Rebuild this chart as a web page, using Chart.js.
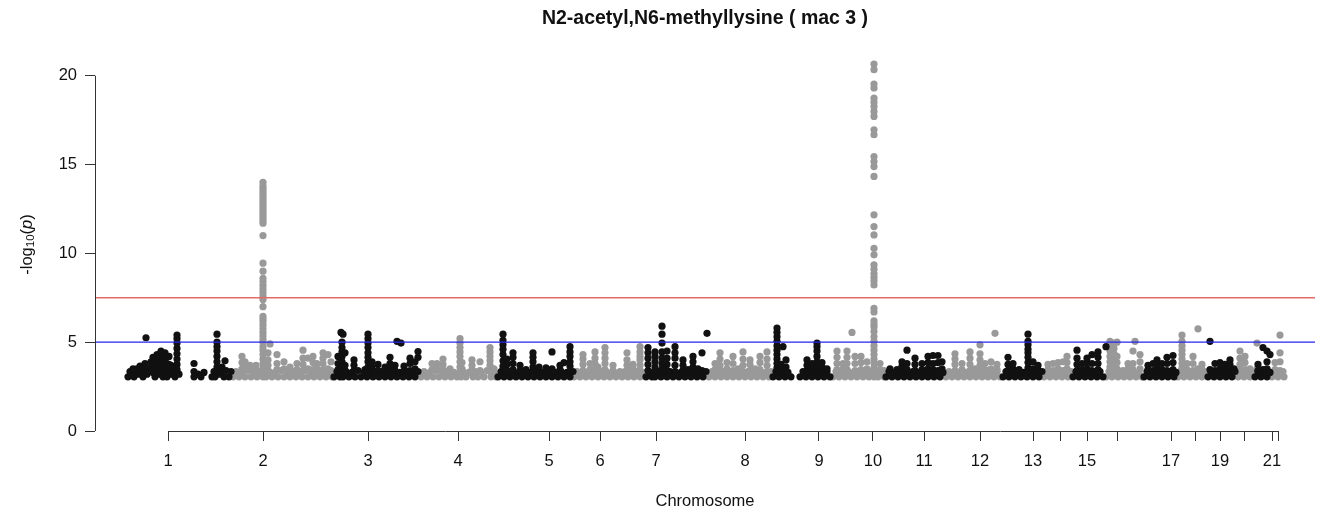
<!DOCTYPE html>
<html>
<head>
<meta charset="utf-8">
<title>N2-acetyl,N6-methyllysine ( mac 3 )</title>
<script src="https://cdn.jsdelivr.net/npm/chart.js@4.4.1/dist/chart.umd.min.js"></script>
<style>
  html, body { margin: 0; padding: 0; background: #fff; }
  #manhattan { display: block; }
</style>
</head>
<body>
<canvas id="manhattan" width="1321" height="510"></canvas>
<script>
// positions are cumulative genome positions (arbitrary units), values are -log10(p)
const chr1 = [[33,3.05],[35,3.35],[36,3.2],[38,3.5],[39,3.05],[41,3.3],[42,3.5],[44,3.2],[45,3.65],[47,3.3],[48,3.05],[50,3.5],[50,3.8],[51,5.25],[52,3.2],[53,3.45],[55,3.35],[56,3.6],[56,3.9],[58,3.3],[58,3.75],[58,4.15],[60,3.05],[60,3.5],[60,3.85],[62,3.3],[62,3.7],[62,4.0],[62,4.3],[64,3.2],[64,3.6],[64,4.0],[66,3.3],[66,3.75],[66,4.1],[66,4.5],[68,3.05],[68,3.5],[68,3.9],[68,4.2],[70,3.4],[70,3.7],[70,4.05],[70,4.4],[72,3.05],[72,3.45],[72,3.8],[74,3.3],[74,3.75],[74,4.2],[76,3.2],[76,3.45],[76,3.7],[78,3.4],[78,3.5],[80,3.05],[82,3.3],[82,3.45],[82,3.75],[82,4.05],[82,4.35],[82,4.65],[82,4.95],[82,5.2],[82,5.4],[84,3.2],
  [99,3.05],[99,3.35],[99,3.8],[103,3.2],[106,3.05],[109,3.3],
  [117,3.05],[119,3.35],[120,3.05],[122,3.3],[122,3.6],[122,3.9],[122,4.2],[122,4.5],[122,4.75],[122,5.0],[122,5.45],[124,3.2],[126,3.3],[127,3.6],[129,3.05],[130,3.95],[131,3.4],[134,3.05],[136,3.35]];
const chr2 = [[138,3.05],[141,3.35],[144,3.05],[147,3.3],[147,3.5],[147,3.85],[147,4.2],[150,3.05],[150,3.6],[150,3.9],[153,3.4],[155,3.45],[155,3.7],[156,3.05],[159,3.3],[161,3.4],[161,3.7],[162,3.05],[165,3.35],
  [168,3.05],[168,3.3],[168,3.55],[168,3.8],[168,4.05],[168,4.3],[168,4.55],[168,4.75],[168,5.0],[168,5.15],[168,5.35],[168,5.55],[168,5.75],[168,5.95],[168,6.15],[168,6.3],[168,6.45],[168,7.0],[168,7.4],[168,7.6],[168,7.8],[168,8.0],[168,8.2],[168,8.4],[168,8.6],[168,9.0],[168,9.45],[168,11.0],[168,11.7],[168,11.85],[168,12.0],[168,12.15],[168,12.3],[168,12.45],[168,12.6],[168,12.75],[168,12.9],[168,13.05],[168,13.2],[168,13.35],[168,13.5],[168,13.65],[168,13.8],[168,14.0],
  [171,3.05],[173,3.4],[173,3.7],[173,4.0],[173,4.4],[174,3.35],[175,4.9],[177,3.05],[180,3.3],[182,3.45],[182,3.8],[182,4.3],[183,3.05],[186,3.4],[189,3.05],[189,3.5],[189,3.9],[192,3.3],[195,3.05],[195,3.35],[195,3.6],[198,3.35],[201,3.05],[202,3.45],[202,3.8],[204,3.3],[207,3.05],[208,3.4],[208,3.75],[208,4.1],[208,4.55],[210,3.4],[213,3.05],[213,3.5],[213,4.1],[216,3.3],[218,3.45],[218,3.85],[218,4.2],[219,3.05],[222,3.35],[222,3.5],[222,3.8],[225,3.05],[228,3.3],[228,3.45],[228,3.8],[228,4.1],[228,4.4],[231,3.05],[233,3.5],[233,4.3],[234,3.35],[236,3.4],[236,3.9],[237,3.05]];
const chr3 = [[239,3.05],[242,3.35],[243,3.45],[243,3.8],[243,4.2],[245,3.05],[247,3.3],[247,3.6],[247,3.9],[247,4.2],[247,4.45],[247,4.7],[247,5.0],[246,5.55],[248,5.45],[248,3.05],[250,3.4],[250,3.7],[250,4.4],[251,3.35],[254,3.05],[257,3.3],[259,3.4],[259,3.7],[259,4.0],[260,3.05],[263,3.4],[266,3.05],[269,3.3],[270,3.45],[272,3.05],
  [273,3.3],[273,3.6],[273,3.9],[273,4.15],[273,4.4],[273,4.7],[273,4.95],[273,5.2],[273,5.45],[275,3.35],[277,3.35],[277,3.6],[277,3.9],[278,3.05],[281,3.3],[283,3.4],[283,3.75],[284,3.05],[287,3.35],[290,3.05],[290,3.35],[290,3.6],[293,3.3],[295,3.5],[295,3.8],[295,4.15],[296,3.05],[299,3.35],[300,3.4],[300,3.7],[302,5.05],[302,3.05],[305,3.3],[306,4.95],[308,3.05],[309,3.35],[309,3.65],[311,3.35],[314,3.05],[315,3.4],[315,3.8],[315,4.1],[317,3.3],[320,3.05],[320,3.5],[320,3.9],[323,3.35],[323,4.15],[323,4.47]];
const chr4 = [[326,3.05],[329,3.35],[332,3.05],[335,3.3],[337,3.45],[337,3.8],[338,3.05],[341,3.4],[342,3.5],[342,3.8],[344,3.05],[347,3.3],[348,3.45],[348,3.75],[348,4.05],[350,3.05],[353,3.35],[355,3.5],[356,3.05],[359,3.3],[362,3.05],
  [365,3.35],[365,3.6],[365,3.9],[365,4.2],[365,4.45],[365,4.7],[365,4.95],[365,5.2],[366,3.05],[367,3.5],[367,3.85],[368,3.35],[371,3.05],[374,3.3],[377,3.45],[377,3.7],[377,4.0],[378,3.05],[380,3.35],[383,3.05],[385,3.4],[385,3.9],[386,3.3],[389,3.05],[392,3.4],[395,3.35],[395,3.7],[395,3.95],[395,4.2],[395,4.45],[395,4.7],[396,3.05],[399,3.5],[399,3.3],[401,3.05]];
const chr5 = [[403,3.05],[406,3.35],[408,3.35],[408,3.65],[408,3.95],[408,4.3],[408,4.6],[408,4.85],[408,5.1],[408,5.45],[409,3.05],[412,3.3],[412,3.4],[412,3.75],[412,4.05],[415,3.05],[418,3.35],[418,3.45],[418,3.8],[418,4.15],[418,4.4],[421,3.05],[424,3.3],[425,3.4],[425,3.7],[427,3.05],[430,3.35],[431,3.45],[433,3.05],[436,3.3],[438,3.35],[438,3.6],[438,3.9],[438,4.15],[438,4.4],[439,3.05],[442,3.35],[444,3.4],[444,3.6],[445,3.05],[448,3.3],[451,3.05],[451,3.4],[451,3.55],[454,3.35],[457,3.05],[457,3.5],[457,4.45],[460,3.3],[463,3.05],[465,3.45],[465,3.7],[466,3.35],[469,3.05],[469,3.85],[472,3.3],[475,3.05],[475,3.35],[475,3.65],[475,3.9],[475,4.2],[475,4.45],[475,4.75],[478,3.35]];
const chr6 = [[479,3.05],[482,3.35],[485,3.05],[488,3.3],[488,3.4],[488,3.75],[488,4.05],[488,4.3],[491,3.05],[494,3.35],[495,3.45],[495,3.8],[497,3.05],[500,3.3],[500,3.5],[500,3.8],[500,4.1],[500,4.45],[503,3.05],[503,3.6],[506,3.35],[509,3.05],[510,3.45],[510,3.8],[510,4.1],[510,4.4],[510,4.7],[512,3.3],[515,3.05],[518,3.35],[518,3.4],[518,3.7],[521,3.05],[524,3.3],[525,3.35],[527,3.05],[530,3.35],[532,3.4],[532,3.7],[532,4.0],[532,4.4],[533,3.05],[536,3.3],[538,3.5],[538,3.75],[539,3.05],[542,3.35],[545,3.05],[545,3.4],[545,3.7],[545,4.0],[545,4.2],[545,4.45],[545,4.75],[548,3.3]];
const chr7 = [[551,3.05],[553,3.4],[553,3.75],[553,4.1],[553,4.4],[553,4.7],[554,3.35],[557,3.05],[560,3.35],[560,3.6],[560,3.9],[560,4.2],[560,4.45],[560,3.05],[563,3.35],[566,3.05],[567,3.5],[567,3.8],[567,4.1],[567,4.45],[567,4.95],[567,5.45],[567,5.9],[569,3.3],[572,3.4],[572,3.75],[572,4.1],[572,4.5],[572,3.05],[575,3.35],[578,3.05],[580,3.35],[580,3.7],[580,4.1],[580,4.4],[580,4.75],[581,3.3],[584,3.05],[587,3.35],[588,3.4],[588,3.7],[588,4.0],[590,3.05],[593,3.45],[593,3.3],[596,3.05],[598,3.35],[598,3.6],[598,3.9],[598,4.2],[599,3.35],[602,3.05],[603,3.5],[605,3.3],[607,3.4],[607,4.4],[608,3.05],[611,3.35],[612,5.5]];
const chr8 = [[614,3.05],[617,3.35],[620,3.05],[620,3.45],[620,3.8],[623,3.3],[625,3.4],[625,3.7],[625,4.05],[625,4.4],[626,3.05],[629,3.35],[632,3.05],[632,3.5],[632,3.85],[635,3.3],[638,3.05],[638,3.4],[638,3.8],[638,4.2],[641,3.35],[643,3.5],[644,3.05],[647,3.3],[648,3.35],[648,3.7],[648,4.05],[648,4.45],[650,3.05],[653,3.35],[655,3.4],[655,3.75],[655,4.0],[656,3.05],[659,3.3],[660,3.5],[662,3.05],[665,3.35],[665,3.45],[665,3.85],[665,4.2],[668,3.05],[671,3.3],[672,3.35],[672,3.7],[672,4.05],[672,4.45],[674,3.05],[676,3.35]];
const chr9 = [[678,3.05],[681,3.35],[682,3.3],[682,3.55],[682,3.8],[682,4.05],[682,4.3],[682,4.55],[682,4.8],[682,5.05],[682,5.3],[682,5.55],[682,5.8],[684,3.05],[686,3.5],[686,3.75],[687,3.35],[688,4.75],[690,3.05],[691,3.6],[691,4.0],[693,3.3],[696,3.05],
  [705,3.05],[708,3.35],[711,3.05],[712,3.4],[712,3.7],[712,4.0],[714,3.3],[717,3.05],[717,3.5],[717,3.8],[720,3.35],[722,3.3],[722,3.6],[722,3.9],[722,4.2],[722,4.5],[722,4.75],[722,4.95],[723,3.05],[726,3.3],[727,3.6],[727,3.85],[729,3.05],[732,3.35],[732,3.5],[735,3.05]];
const chr10 = [[738,3.05],[741,3.35],[742,3.45],[742,3.8],[742,4.15],[742,4.5],[744,3.05],[747,3.3],[748,3.5],[748,3.8],[750,3.05],[752,3.45],[752,3.8],[752,4.15],[752,4.5],[753,3.35],[756,3.05],[757,5.55],[759,3.3],[760,3.4],[760,3.8],[760,4.2],[762,3.05],[765,3.35],[766,3.45],[766,3.85],[766,4.2],[768,3.05],[771,3.3],[772,3.5],[772,3.9],[774,3.05],[777,3.35],
  [779,3.05],[779,3.3],[779,3.55],[779,3.8],[779,4.05],[779,4.3],[779,4.55],[779,4.8],[779,5.05],[779,5.3],[779,5.6],[779,5.85],[779,6.0],[779,6.2],[779,6.7],[779,6.9],[779,8.22],[779,8.45],[779,8.65],[779,8.85],[779,9.1],[779,9.35],[779,9.92],[779,10.29],[779,11.04],[779,11.51],[779,12.17],[779,14.33],[779,14.89],[779,15.17],[779,15.45],[779,16.68],[779,16.96],[779,17.71],[779,17.99],[779,18.27],[779,18.5],[779,18.74],[779,19.31],[779,19.53],[779,20.34],[779,20.66],
  [780,3.3],[783,3.05],[785,3.45],[785,3.8],[786,3.35],[789,3.4],[789,3.05]];
const chr11 = [[791,3.05],[794,3.35],[795,3.5],[797,3.05],[800,3.3],[802,3.45],[803,3.05],[806,3.35],[807,3.4],[807,3.65],[807,3.9],[809,3.05],[812,3.3],[812,3.45],[812,3.8],[812,4.55],[815,3.05],[818,3.35],[820,3.4],[820,3.75],[820,4.1],[821,3.05],[824,3.3],[827,3.05],[827,3.45],[827,3.8],[830,3.35],[833,3.05],[833,3.5],[833,3.85],[833,4.2],[836,3.3],[838,3.45],[838,3.8],[838,4.25],[839,3.05],[842,3.35],[843,3.4],[843,3.85],[843,4.25],[845,3.05],[847,3.5],[847,3.9],[848,3.3]];
const chr12 = [[851,3.05],[854,3.35],[857,3.05],[860,3.3],[860,3.4],[860,3.75],[860,4.05],[860,4.35],[863,3.05],[866,3.35],[867,3.45],[867,3.8],[869,3.05],[872,3.3],[875,3.05],[875,3.4],[875,3.75],[875,4.1],[875,4.45],[878,3.35],[880,3.5],[881,3.05],[884,3.3],[885,3.35],[885,3.7],[885,4.0],[885,4.35],[885,4.85],[887,3.05],[890,3.35],[890,3.45],[890,3.8],[893,3.05],[896,3.3],[896,3.5],[896,3.9],[899,3.05],[900,5.5],[902,3.35],[902,3.45],[902,3.75],[905,3.05]];
const chr13 = [[908,3.05],[911,3.35],[913,3.4],[913,3.75],[913,4.15],[914,3.05],[917,3.3],[918,3.5],[918,3.8],[920,3.05],[923,3.35],[924,3.45],[926,3.05],[929,3.3],[932,3.05],[933,3.3],[933,3.55],[933,3.85],[933,4.15],[933,4.4],[933,4.6],[933,4.85],[933,5.05],[933,5.45],[935,3.35],[938,3.05],[938,3.5],[938,3.9],[941,3.3],[943,3.45],[943,3.7],[944,3.05],[947,3.35]];
const chr14 = [[949,3.05],[952,3.35],[953,3.45],[953,3.75],[955,3.05],[958,3.3],[958,3.4],[958,3.8],[961,3.05],[963,3.5],[963,3.85],[964,3.35],[967,3.05],[968,3.4],[968,3.9],[970,3.3],[972,3.5],[972,3.85],[972,4.2],[973,3.05],[976,3.35]];
const chr15 = [[978,3.05],[981,3.35],[982,3.4],[982,3.75],[982,4.1],[982,4.55],[984,3.05],[987,3.3],[987,3.45],[987,3.8],[990,3.05],[992,3.5],[992,3.85],[992,4.1],[993,3.35],[996,3.05],[997,3.4],[997,3.8],[997,4.3],[999,3.3],[1002,3.05],[1003,3.45],[1003,3.8],[1003,4.15],[1003,4.45],[1005,3.35],[1008,3.05],[1011,4.75]];
const chr16 = [[1011,3.05],[1014,3.35],[1015,3.3],[1015,3.6],[1015,3.9],[1015,4.2],[1015,4.5],[1015,4.8],[1015,5.05],[1017,3.05],[1019,3.45],[1019,3.75],[1019,4.05],[1019,4.35],[1019,4.65],[1019,4.95],[1020,3.3],[1022,3.5],[1022,3.85],[1022,4.2],[1022,5.0],[1023,3.05],[1026,3.35],[1028,3.4],[1029,3.05],[1032,3.3],[1033,3.5],[1033,3.8],[1035,3.05],[1038,3.35],[1038,3.45],[1038,3.8],[1038,4.5],[1040,5.05],[1041,3.05],[1044,3.3],[1045,3.5],[1045,3.9],[1045,4.3],[1047,3.05]];
const chr17 = [[1049,3.05],[1052,3.35],[1053,3.45],[1053,3.7],[1055,3.05],[1058,3.3],[1058,3.4],[1058,3.8],[1061,3.05],[1062,3.5],[1062,3.75],[1062,4.0],[1064,3.35],[1067,3.05],[1067,3.45],[1067,3.8],[1070,3.3],[1072,3.4],[1072,3.8],[1072,4.15],[1073,3.05],[1076,3.35],[1078,3.45],[1078,3.85],[1078,4.25],[1079,3.05],[1081,3.3]];
const chr18 = [[1083,3.05],[1085,3.35],[1087,3.3],[1087,3.55],[1087,3.8],[1087,4.05],[1087,4.3],[1087,4.55],[1087,4.8],[1087,5.05],[1087,5.4],[1089,3.05],[1092,3.3],[1092,3.45],[1092,3.8],[1095,3.05],[1098,3.35],[1098,3.4],[1098,3.8],[1098,4.2],[1101,3.05],[1103,3.5],[1103,5.75],[1104,3.3],[1107,3.05],[1107,3.45],[1107,3.75],[1110,3.35]];
const chr19 = [[1113,3.05],[1115,3.45],[1115,5.05],[1116,3.35],[1119,3.05],[1120,3.4],[1120,3.8],[1122,3.3],[1125,3.05],[1125,3.5],[1125,3.85],[1128,3.35],[1130,3.45],[1130,3.75],[1131,3.05],[1134,3.3],[1135,3.4],[1135,3.75],[1135,4.0],[1137,3.05],[1139,3.5],[1140,3.35]];
const chr20 = [[1143,3.05],[1145,3.4],[1145,3.75],[1145,4.1],[1145,4.5],[1146,3.35],[1149,3.05],[1150,3.45],[1150,3.85],[1150,4.2],[1152,3.3],[1155,3.05],[1155,3.5],[1158,3.35],[1162,3.5],[1162,4.95]];
const chr21 = [[1160,3.05],[1163,3.35],[1163,3.4],[1163,3.75],[1166,3.05],[1168,3.45],[1168,4.7],[1169,3.35],[1172,3.05],[1172,3.5],[1172,3.9],[1172,4.5],[1175,3.3],[1175,4.3]];
const chr22 = [[1177,3.05],[1180,3.35],[1180,3.45],[1180,3.85],[1183,3.05],[1185,3.4],[1185,3.9],[1185,4.4],[1185,5.4],[1186,3.3],[1188,3.35],[1189,3.05]];

// axis ticks: chromosome centres and labels (R skips the ones that would overlap)
const chromTicks = [73,168,273,363,454,505,561,650,724,778,829,885,938,965,992,1022,1076,1100,1125,1149,1177,1183];
const chromLabels = ['1','2','3','4','5','6','7','8','9','10','11','12','13','','15','','17','','19','','21',''];
const yTicks = [0, 5, 10, 15, 20];

// significance thresholds
const genomeWide = 7.5;
const suggestive = 5;

const FONT = '"Liberation Sans", Arial, Helvetica, sans-serif';

document.addEventListener('DOMContentLoaded', function() {
    const chromosomes = [chr1, chr2, chr3, chr4, chr5, chr6, chr7, chr8, chr9, chr10, chr11,
                         chr12, chr13, chr14, chr15, chr16, chr17, chr18, chr19, chr20, chr21, chr22];
    const oddPts = [], evenPts = [];
    chromosomes.forEach(function(c, i) {
        const target = (i % 2 === 0) ? oddPts : evenPts;
        c.forEach(function(p) { target.push({x: p[0], y: p[1]}); });
    });

    const xMin = 0, xMax = 1220;

    const decorations = {
        id: 'decorations',
        afterDraw(chart) {
            const {ctx, chartArea, scales} = chart;
            const x = scales.x, y = scales.y;
            ctx.save();
            // axis lines, R style (only across the tick range)
            ctx.strokeStyle = '#333';
            ctx.lineWidth = 1;
            ctx.beginPath();
            const yl = Math.round(chartArea.left) + 0.5;
            ctx.moveTo(yl, y.getPixelForValue(yTicks[0]));
            ctx.lineTo(yl, y.getPixelForValue(yTicks[yTicks.length - 1]));
            const xb = Math.round(chartArea.bottom) + 0.5;
            ctx.moveTo(x.getPixelForValue(chromTicks[0]), xb);
            ctx.lineTo(x.getPixelForValue(chromTicks[chromTicks.length - 1]), xb);
            ctx.stroke();

            const cx = (chartArea.left + chartArea.right) / 2;
            ctx.fillStyle = '#111';
            ctx.textAlign = 'center';
            ctx.textBaseline = 'middle';
            ctx.font = 'bold 19.5px ' + FONT;
            ctx.fillText('N2-acetyl,N6-methyllysine ( mac 3 )', cx, 19);

            ctx.font = '16.5px ' + FONT;
            ctx.fillText('Chromosome', cx, 501);

            // y title: -log10(p) with subscript and italic p
            const parts = [
                {t: '-log', f: '16.5px ' + FONT, dy: 0},
                {t: '10', f: '11.5px ' + FONT, dy: 4},
                {t: '(', f: '16.5px ' + FONT, dy: 0},
                {t: 'p', f: 'italic 16.5px ' + FONT, dy: 0},
                {t: ')', f: '16.5px ' + FONT, dy: 0}
            ];
            let total = 0;
            parts.forEach(function(p) { ctx.font = p.f; p.w = ctx.measureText(p.t).width; total += p.w; });
            ctx.translate(27, (chartArea.top + chartArea.bottom) / 2);
            ctx.rotate(-Math.PI / 2);
            ctx.textAlign = 'left';
            let pos = -total / 2;
            parts.forEach(function(p) {
                ctx.font = p.f;
                ctx.fillText(p.t, pos, p.dy);
                pos += p.w;
            });
            ctx.restore();
        }
    };

    new Chart(document.getElementById('manhattan'), {
        type: 'scatter',
        data: {
            datasets: [
                {
                    type: 'line',
                    label: 'genome-wide',
                    data: [{x: xMin, y: genomeWide}, {x: xMax, y: genomeWide}],
                    borderColor: '#e56b68',
                    borderWidth: 1.6,
                    pointRadius: 0,
                    order: 0
                },
                {
                    type: 'line',
                    label: 'suggestive',
                    data: [{x: xMin, y: suggestive}, {x: xMax, y: suggestive}],
                    borderColor: '#2424f0',
                    borderWidth: 1.3,
                    pointRadius: 0,
                    order: 0
                },
                {
                    label: 'odd chromosomes',
                    data: oddPts,
                    backgroundColor: '#111111',
                    borderWidth: 0,
                    pointRadius: 3.6,
                    order: 1
                },
                {
                    label: 'even chromosomes',
                    data: evenPts,
                    backgroundColor: '#999999',
                    borderWidth: 0,
                    pointRadius: 3.6,
                    order: 1
                }
            ]
        },
        options: {
            responsive: false,
            animation: false,
            devicePixelRatio: 1,
            layout: {
                padding: { left: 0, right: 6, top: 58, bottom: 0 }
            },
            plugins: {
                legend: { display: false },
                tooltip: { enabled: false }
            },
            scales: {
                x: {
                    type: 'linear',
                    min: xMin,
                    max: xMax,
                    afterBuildTicks: function(axis) {
                        axis.ticks = chromTicks.map(function(v) { return {value: v}; });
                    },
                    afterFit: function(axis) { axis.height = 79; },
                    ticks: {
                        autoSkip: false,
                        maxRotation: 0,
                        padding: 11,
                        color: '#111',
                        font: { family: FONT, size: 16.5 },
                        callback: function(value, index) { return chromLabels[index]; }
                    },
                    grid: {
                        drawOnChartArea: false,
                        drawTicks: true,
                        tickLength: 10,
                        color: '#333'
                    },
                    border: { display: false }
                },
                y: {
                    min: 0,
                    max: 21,
                    afterBuildTicks: function(axis) {
                        axis.ticks = yTicks.map(function(v) { return {value: v}; });
                    },
                    afterFit: function(axis) { axis.width = 95; },
                    ticks: {
                        padding: 8,
                        color: '#111',
                        font: { family: FONT, size: 16.5 }
                    },
                    grid: {
                        drawOnChartArea: false,
                        drawTicks: true,
                        tickLength: 10,
                        color: '#333'
                    },
                    border: { display: false }
                }
            }
        },
        plugins: [decorations]
    });
});
</script>
</body>
</html>
